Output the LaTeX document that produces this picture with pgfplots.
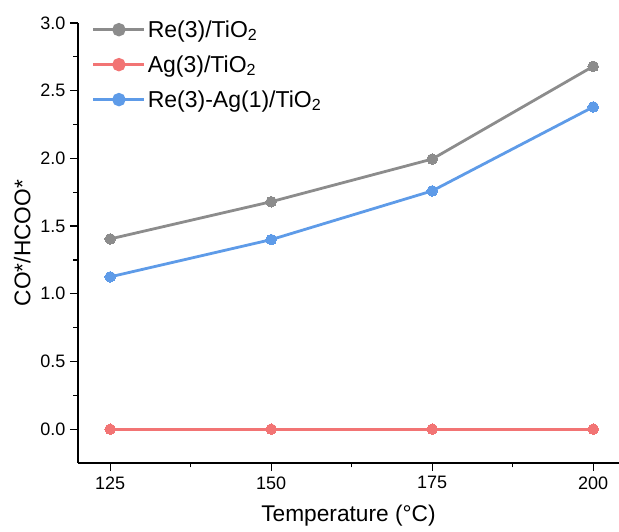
\documentclass[border=0pt]{standalone}
\usepackage{pgfplots}
\pgfplotsset{compat=1.18}
\usepackage{fontspec}
\setmainfont{Liberation Sans}
\usetikzlibrary{calc}
\definecolor{cgray}{HTML}{8C8C8C}
\definecolor{cred}{HTML}{F27474}
\definecolor{cblue}{HTML}{5E9BE8}
\begin{document}
\begin{tikzpicture}
\begin{axis}[
  name=ax,
  scale only axis,
  width=541pt, height=440pt,
  xmin=120, xmax=204, ymin=-0.25, ymax=3.0,
  axis lines*=left,
  axis line style={line width=1.3pt, black},
  xtick={125,150,175,200},
  ytick={0,0.5,1.0,1.5,2.0,2.5,3.0},
  minor x tick num=1, minor y tick num=1,
  tick align=outside,
  major tick length=8pt, minor tick length=4.5pt,
  tick style={line width=1.3pt, black},
  /pgf/number format/assume math mode=true,
  /pgf/number format/.cd, fixed, fixed zerofill, precision=1, /pgfplots/.cd,
  xticklabel style={/pgf/number format/precision=0, /pgf/number format/fixed zerofill=false},
  ticklabel style={font=\fontsize{18}{21}\selectfont},
  xticklabel style={yshift=-2pt},
  yticklabel style={xshift=-1pt},
  xlabel={Temperature (°C)},
  ylabel={CO*/HCOO*},
  label style={font=\fontsize{22.7}{26}\selectfont},
  xlabel style={yshift=-9pt},
  ylabel style={yshift=3pt},
  legend style={draw=none, fill=none, at={(0.02,1.015)}, anchor=north west,
    font=\fontsize{23}{27}\selectfont, row sep=12.8pt,
    /tikz/every even column/.append style={column sep=4pt}},
  legend cell align=left,
  legend image code/.code={
    \draw[#1, mark=none, line width=2.8pt] (0pt,0pt) -- (51pt,0pt);
    \fill[#1] (25.5pt,0pt) circle (5.3pt);
  },
]
\addplot[color=cgray, line width=2.8pt, mark=*, mark size=5.3pt, mark options={fill=cgray, draw=cgray, line width=0pt}] coordinates {(125,1.405) (150,1.68) (175,1.995) (200,2.68)};
\addlegendentry{Re(3)/TiO\textsubscript{2}}
\addplot[color=cred, line width=2.8pt, mark=*, mark size=5.3pt, mark options={fill=cred, draw=cred, line width=0pt}] coordinates {(125,0) (150,0) (175,0) (200,0)};
\addlegendentry{Ag(3)/TiO\textsubscript{2}}
\addplot[color=cblue, line width=2.8pt, mark=*, mark size=5.3pt, mark options={fill=cblue, draw=cblue, line width=0pt}] coordinates {(125,1.125) (150,1.40) (175,1.76) (200,2.38)};
\addlegendentry{Re(3)-Ag(1)/TiO\textsubscript{2}}
\end{axis}
\pgfresetboundingbox
\path ($(ax.south west)+(-78pt,-69pt)$) rectangle ($(ax.south west)+(541pt,463pt)$);
\end{tikzpicture}
\end{document}
